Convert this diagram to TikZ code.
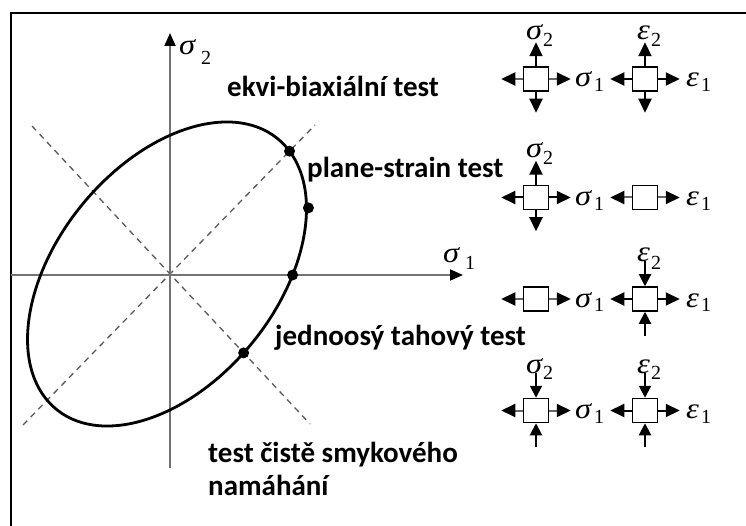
\documentclass[tikz,border=0pt]{standalone}
\usepackage{fontspec}
\setmainfont{Carlito}
\newfontfamily\grk{Liberation Serif}
\usetikzlibrary{arrows.meta,intersections,calc}

% Greek symbol with a lowered index: #1 letter, #2 index, #3 gap, #4 drop
\newcommand\glab[4]{\scalebox{1.12}[1]{\grk\fontsize{29}{29}\selectfont\itshape #1}\kern#3\raisebox{-#4}{\grk\fontsize{20}{20}\selectfont #2}}

\tikzset{
  frame/.style={line width=1.6pt, black},
  axis/.style={line width=1.8pt, black!55, -{Triangle[length=13pt,width=11pt,color=black]}},
  diag/.style={line width=1.3pt, black!65, dash pattern=on 6pt off 5pt},
  curve/.style={line width=2.8pt, black},
  dot/.style={circle, fill=black, minimum size=11pt, inner sep=0pt},
  txt/.style={anchor=base west, inner sep=0pt, font=\bfseries\fontsize{29}{33}\selectfont},
  glabel/.style={anchor=base west, inner sep=0pt},
  cellbox/.style={draw=black, fill=white, line width=1.5pt, minimum width=25pt, minimum height=24pt, inner sep=0pt},
  pull/.style={line width=2pt, -{Triangle[length=14pt,width=13pt,color=black]}},
  push/.style={line width=2pt, -{Triangle[length=12pt,width=12pt,color=black]}},
}

% stress/strain element: tension on the horizontal sides
\newcommand\pullH[2]{%
  \draw[pull, draw=#2] (#1.east) -- ($(#1.east)+(21.5,0)$);
  \draw[pull, draw=#2] (#1.west) -- ($(#1.west)+(-21.5,0)$);}
% tension on the vertical sides
\newcommand\pullV[1]{%
  \draw[pull] (#1.north) -- ($(#1.north)+(0,-24)$);
  \draw[pull] (#1.south) -- ($(#1.south)+(0,21)$);}
% compression on the vertical sides
\newcommand\pushV[1]{%
  \draw[push] ($(#1.north)+(0,-25)$) -- (#1.north);
  \draw[push] ($(#1.south)+(0,24)$) -- (#1.south);}

\begin{document}
\begin{tikzpicture}[x=1pt,y=-1pt]
\useasboundingbox (0,0) rectangle (746,526);

% outer frame (left and top edges)
\coordinate (fb) at (11,526);
\coordinate (fc) at (11,13);
\coordinate (fr) at (746,13);
\draw[frame] (fb) -- (fc) -- (fr);

% diagonal guide lines
\coordinate (n1) at (23,425);
\coordinate (n2) at (315,125);
\coordinate (m1) at (32,126);
\coordinate (m2) at (310,424);
\draw[diag, name path=dne] (n1) -- (n2);
\draw[diag, name path=dnw] (m1) -- (m2);

% principal stress axes
\coordinate (xa) at (11,275);
\coordinate (xb) at (463,275);
\coordinate (ya) at (170,468);
\coordinate (yb) at (170,33);
\draw[axis, name path=xaxis] (xa) -- (xb);
\draw[axis] (ya) -- (yb);
\node[glabel] (ax2) at (179,55) {\glab{σ}{2}{6pt}{10pt}};
\node[glabel] (ax1) at (443,263) {\glab{σ}{1}{6pt}{7pt}};

% yield locus
\begin{scope}[shift={(167,274)}, yscale=1.09, rotate=45]
  \draw[curve, name path global=ell] (0,0) ellipse [x radius=166.7pt, y radius=105.4pt];
  \coordinate (pPS) at (142.9,57.1);
\end{scope}

% test points on the locus
\path[name intersections={of=ell and dne, sort by=dne, total=\tot}] (intersection-\tot) coordinate (pEB);
\path[name intersections={of=ell and dnw, sort by=dnw, total=\tot}] (intersection-\tot) coordinate (pSH);
\path[name intersections={of=ell and xaxis, sort by=xaxis, total=\tot}] (intersection-\tot) coordinate (pUT);
\node[dot] (dEB) at (pEB) {};
\node[dot] (dPS) at (pPS) {};
\node[dot] (dUT) at (pUT) {};
\node[dot] (dSH) at (pSH) {};

% test names
\node[txt] (t1) at (227,97) {ekvi-biaxiální test};
\node[txt] (t2) at (307,178) {plane-strain test};
\node[txt] (t3) at (275,345) {jednoosý tahový test};
\node[txt] (t4) at (208,462) {test čistě smykového};
\node[txt] (t5) at (208,495) {namáhání};

% row 1: equi-biaxial
\node[cellbox] (s1) at (536,79) {};
\pullH{s1}{black!60}\pullV{s1}
\node[glabel] (s1t) at (526,40) {\glab{σ}{2}{1pt}{7pt}};
\node[glabel] (s1r) at (575,87) {\glab{σ}{1}{3pt}{5pt}};
\node[cellbox] (e1) at (645,79) {};
\pullH{e1}{black}\pullV{e1}
\node[glabel] (e1t) at (637,40) {\glab{ε}{2}{1pt}{7pt}};
\node[glabel] (e1r) at (686,87) {\glab{ε}{1}{2pt}{5pt}};

% row 2: plane strain
\node[cellbox] (s2) at (536,197.5) {};
\pullH{s2}{black}\pullV{s2}
\node[glabel] (s2t) at (526,158) {\glab{σ}{2}{1pt}{7pt}};
\node[glabel] (s2r) at (575,205.5) {\glab{σ}{1}{3pt}{5pt}};
\node[cellbox] (e2) at (645,197.5) {};
\pullH{e2}{black!60}
\node[glabel] (e2r) at (686,205.5) {\glab{ε}{1}{2pt}{5pt}};

% row 3: uniaxial tension
\node[cellbox] (s3) at (536,299) {};
\pullH{s3}{black!60}
\node[glabel] (s3r) at (575,307) {\glab{σ}{1}{3pt}{5pt}};
\node[cellbox] (e3) at (645,299) {};
\pullH{e3}{black}\pushV{e3}
\node[glabel] (e3t) at (637,262) {\glab{ε}{2}{1pt}{7pt}};
\node[glabel] (e3r) at (686,307) {\glab{ε}{1}{2pt}{5pt}};

% row 4: pure shear
\node[cellbox] (s4) at (536,410.5) {};
\pullH{s4}{black!60}\pushV{s4}
\node[glabel] (s4t) at (526,373) {\glab{σ}{2}{1pt}{6pt}};
\node[glabel] (s4r) at (575,418.5) {\glab{σ}{1}{3pt}{5pt}};
\node[cellbox] (e4) at (645,410.5) {};
\pullH{e4}{black}\pushV{e4}
\node[glabel] (e4t) at (637,373) {\glab{ε}{2}{1pt}{6pt}};
\node[glabel] (e4r) at (686,418.5) {\glab{ε}{1}{2pt}{5pt}};
\end{tikzpicture}
\end{document}
